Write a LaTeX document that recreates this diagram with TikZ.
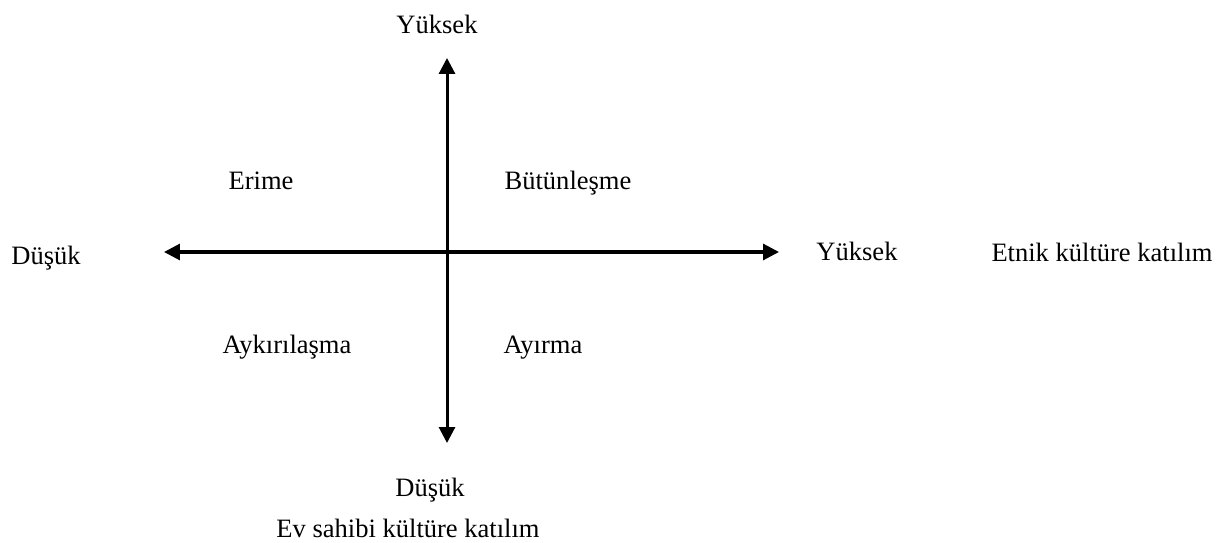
\documentclass[tikz,border=0pt]{standalone}
\usepackage{fontspec}
\setmainfont{Liberation Serif}
\usepackage{tikz}
\usetikzlibrary{arrows.meta}

\tikzset{
  axis/.style={line width=1.36pt,{Triangle[length=7.2pt,width=7.2pt]}-{Triangle[length=7.2pt,width=7.2pt]}},
  lbl/.style={anchor=base,inner sep=0pt,font=\fontsize{12}{14}\selectfont}
}

\begin{document}
\begin{tikzpicture}[x=0.0159cm,y=-0.0159cm]
  \useasboundingbox (0,0) rectangle (1227,543);

  % axis ends
  \coordinate (up) at (447,58);
  \coordinate (down) at (447,443);
  \coordinate (left) at (164,252);
  \coordinate (right) at (779,252);

  \draw[axis] (down) -- (up);
  \draw[axis] (left) -- (right);

  % axis labels
  \node[lbl] (hi-v) at (437,34) {Yüksek};
  \node[lbl] (lo-v) at (430,496) {Düşük};
  \node[lbl] (host) at (408,537) {Ev sahibi kültüre katılım};
  \node[lbl] (lo-h) at (46,265) {Düşük};
  \node[lbl] (hi-h) at (857,261) {Yüksek};
  \node[lbl] (ethnic) at (1102,262) {Etnik kültüre katılım};

  % quadrants
  \node[lbl] (assim) at (261,190) {Erime};
  \node[lbl] (integ) at (568,190) {Bütünleşme};
  \node[lbl] (margin) at (287,354) {Aykırılaşma};
  \node[lbl] (separ) at (543,354) {Ayırma};
\end{tikzpicture}
\end{document}
